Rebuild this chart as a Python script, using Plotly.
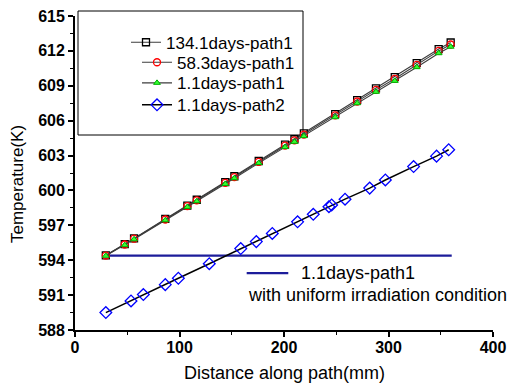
import plotly.graph_objects as go

# Distance along path (mm) and temperatures (K)
dist_path1 = [29.5, 47.6, 56.5, 86.4, 107.5, 116.5, 143.8, 152.5, 175.8, 201.0,
              210.0, 219.0, 249.0, 270.0, 288.0, 306.0, 327.0, 348.0, 359.5]
temp_134d_p1 = [594.42, 595.38, 595.88, 597.55, 598.70, 599.20, 600.72, 601.22, 602.53, 603.94,
                604.40, 604.90, 606.56, 607.77, 608.78, 609.74, 610.95, 612.16, 612.72]
temp_58d_p1 = [594.40, 595.35, 595.85, 597.50, 598.65, 599.15, 600.65, 601.15, 602.45, 603.85,
               604.30, 604.80, 606.45, 607.65, 608.65, 609.60, 610.80, 612.00, 612.55]
temp_1d_p1 = [594.38, 595.30, 595.80, 597.44, 598.58, 599.07, 600.56, 601.05, 602.35, 603.73,
              604.18, 604.67, 606.30, 607.50, 608.48, 609.42, 610.60, 611.80, 612.36]

dist_path2 = [29.5, 53.6, 65.4, 86.4, 98.9, 128.5, 158.6, 173.5, 188.8, 213.0,
              228.0, 243.0, 245.6, 258.4, 282.0, 297.0, 324.0, 346.0, 357.6]
temp_1d_p2 = [589.50, 590.50, 591.05, 591.90, 592.45, 593.70, 595.00, 595.60, 596.30, 597.30,
              597.95, 598.60, 598.75, 599.25, 600.20, 600.90, 602.05, 602.95, 603.50]

# Uniform irradiation reference (constant temperature along path1)
dist_uniform = [29.5, 360.5]
temp_uniform = [594.4, 594.4]

x_ticks = [0, 100, 200, 300, 400]
y_ticks = [588, 591, 594, 597, 600, 603, 606, 609, 612, 615]

series_names = ["134.1days-path1", "58.3days-path1", "1.1days-path1", "1.1days-path2"]

FONT = "Liberation Sans, Arial, sans-serif"
NAVY = "#1c1c9a"
PATH1_LINE = "#3c3c3c"

# plot area in pixels
L, R, T, B = 75, 15, 16, 57
W, H = 508, 387
PW, PH = W - L - R, H - T - B


def px_x(px):
    return (px - L) / PW


def px_y(py):
    return (H - B - py) / PH


fig = go.Figure()

fig.add_trace(go.Scatter(
    x=dist_uniform, y=temp_uniform, mode="lines", showlegend=False,
    line=dict(color=NAVY, width=2.2)))

fig.add_trace(go.Scatter(
    x=dist_path1, y=temp_134d_p1, mode="lines+markers", name=series_names[0],
    legend="legend",
    line=dict(color=PATH1_LINE, width=1.1),
    marker=dict(symbol="square-open", size=7, color="black", line=dict(width=1.3))))
fig.add_trace(go.Scatter(
    x=dist_path1, y=temp_58d_p1, mode="lines+markers", name=series_names[1],
    legend="legend2",
    line=dict(color=PATH1_LINE, width=1.1),
    marker=dict(symbol="circle-open", size=7, color="red", line=dict(width=1.3))))
fig.add_trace(go.Scatter(
    x=dist_path1, y=temp_1d_p1, mode="lines+markers", name=series_names[2],
    legend="legend3",
    line=dict(color=PATH1_LINE, width=1.1),
    marker=dict(symbol="triangle-up", size=6, color="#33ff33",
                line=dict(width=1, color="#00b000"))))
fig.add_trace(go.Scatter(
    x=dist_path2, y=temp_1d_p2, mode="lines+markers", name=series_names[3],
    legend="legend4",
    line=dict(color="black", width=1.5),
    marker=dict(symbol="diamond-open", size=9, color="blue", line=dict(width=1.3))))

# Legend frame
fig.add_shape(type="rect", xref="paper", yref="paper",
              x0=px_x(78), x1=px_x(303), y0=px_y(135), y1=px_y(11),
              line=dict(color="black", width=1), fillcolor="white", layer="below")

# Key for the uniform irradiation line
fig.add_shape(type="line", xref="x", yref="y",
              x0=164.3, x1=204.1, y0=592.89, y1=592.89,
              line=dict(color=NAVY, width=2.2))
fig.add_annotation(x=214.0, y=592.89, xref="x", yref="y", text="1.1days-path1",
                   showarrow=False, xanchor="left", yanchor="middle",
                   font=dict(family=FONT, size=18, color="black"))
fig.add_annotation(x=163.3, y=590.98, xref="x", yref="y",
                   text="with uniform irradiation condition",
                   showarrow=False, xanchor="left", yanchor="middle",
                   font=dict(family=FONT, size=18, color="black"))

# Axis titles
fig.add_annotation(x=px_x(284), y=px_y(373), xref="paper", yref="paper",
                   text="Distance along path(mm)", showarrow=False,
                   xanchor="center", yanchor="middle",
                   font=dict(family=FONT, size=18, color="black"))
fig.add_annotation(x=px_x(17), y=px_y(184), xref="paper", yref="paper",
                   text="Temperature(K)", showarrow=False, textangle=-90,
                   xanchor="center", yanchor="middle",
                   font=dict(family=FONT, size=17, color="black"))

axis_common = dict(
    showgrid=False, zeroline=False, showline=True, linecolor="black", linewidth=1.8,
    ticks="outside", ticklen=5, tickwidth=1.5, tickcolor="black", mirror=False,
    automargin=False,
    tickfont=dict(family=FONT, size=16, color="black", weight="bold"),
)

fig.update_xaxes(range=[0, 400], tickvals=x_ticks, ticklabelstandoff=-3,
                 minor=dict(ticks="outside", ticklen=3, tickwidth=1.2, dtick=50,
                            tick0=0, tickcolor="black"),
                 **axis_common)
fig.update_yaxes(range=[588, 615], tickvals=y_ticks,
                 minor=dict(ticks="outside", ticklen=3, tickwidth=1.2, dtick=1.5,
                            tick0=588, tickcolor="black"),
                 **axis_common)

# one legend box per entry so each row sits at its own height
row_centres = [42.7, 62.7, 83.3, 105.3]
text_left = [166, 177, 177, 177]
legend_keys = ["legend", "legend2", "legend3", "legend4"]
legend_layout = {}
for key, yc, tl in zip(legend_keys, row_centres, text_left):
    legend_layout[key] = dict(
        x=px_x(tl - 40), y=px_y(yc), xanchor="left", yanchor="middle",
        bgcolor="rgba(0,0,0,0)", borderwidth=0,
        font=dict(family=FONT, size=17, color="black"))

fig.update_layout(
    width=W, height=H,
    margin=dict(l=L, r=R, t=T, b=B),
    paper_bgcolor="white", plot_bgcolor="white",
    font=dict(family=FONT, color="black"),
    **legend_layout,
)

fig.write_html("out.html")
